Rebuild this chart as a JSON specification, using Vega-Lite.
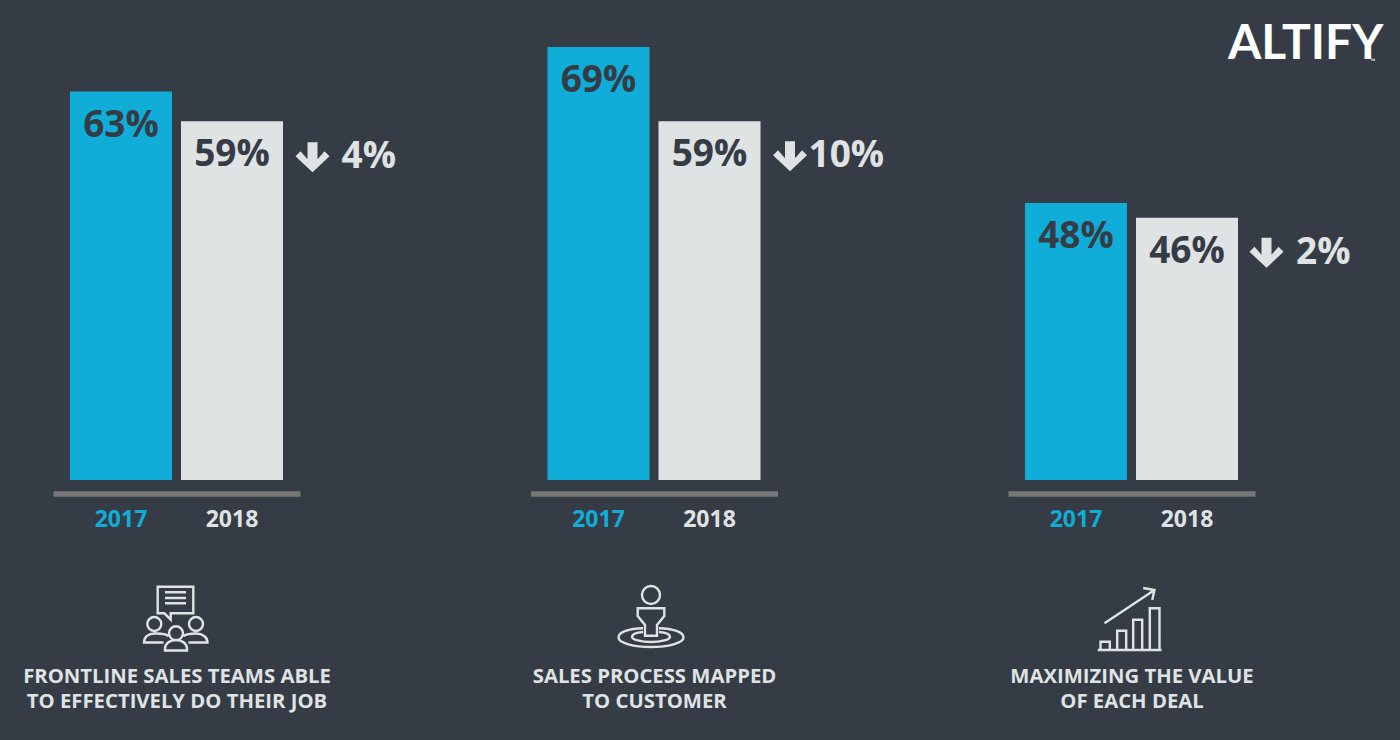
{"$schema":"https://vega.github.io/schema/vega-lite/v6.json","background":"#363c46","padding":{"left":22,"right":22,"top":21,"bottom":29},"bounds":"flush","spacing":230.5,"title":{"text":"ALTIFY","anchor":"end","dx":8,"offset":-22,"font":"Lato","fontWeight":"bold","fontSize":48,"color":"#ffffff"},"config":{"view":{"stroke":null}},"datasets":{"rows":[{"metric":"teams","year":"2017","value":63,"label":"63%","delta":"4%"},{"metric":"teams","year":"2018","value":59,"label":"59%","delta":"4%"},{"metric":"process","year":"2017","value":69,"label":"69%","delta":"10%"},{"metric":"process","year":"2018","value":59,"label":"59%","delta":"10%"},{"metric":"deal","year":"2017","value":48,"label":"48%","delta":"2%"},{"metric":"deal","year":"2018","value":46,"label":"46%","delta":"2%"}]},"hconcat":[{"width":247,"height":433,"data":{"name":"rows"},"transform":[{"filter":"datum.metric=='teams'"}],"encoding":{"x":{"field":"year","type":"nominal","scale":{"paddingInner":0.081,"paddingOuter":0.153},"axis":{"title":["FRONTLINE SALES TEAMS ABLE","TO EFFECTIVELY DO THEIR JOB"],"titlePadding":135,"titleLineHeight":25,"titleFont":"Open Sans","titleFontWeight":"bold","titleFontSize":20.3,"titleColor":"#dfe3e4","titleLimit":500,"offset":13.5,"domainColor":"#777777","domainWidth":5.5,"ticks":false,"labelAngle":0,"labelPadding":15,"labelFont":"Open Sans","labelFontWeight":"bold","labelFontSize":23,"labelColor":{"expr":"datum.value=='2017'?'#0fadd8':'#dfe3e4'"}}},"y":{"field":"value","type":"quantitative","scale":{"domain":[10.7,69],"zero":false,"clamp":true},"axis":null}},"layer":[{"mark":{"type":"bar"},"encoding":{"color":{"field":"year","type":"nominal","scale":{"domain":["2017","2018"],"range":["#0fadd8","#dfe3e4"]},"legend":null}}},{"mark":{"type":"text","dy":34,"font":"Open Sans","fontWeight":"bold","fontSize":37,"color":"#363c46","baseline":"middle"},"encoding":{"text":{"field":"label"}}},{"transform":[{"filter":"datum.year=='2018'"}],"mark":{"type":"point","xOffset":80.5,"yOffset":36,"size":4,"filled":true,"opacity":1,"fill":"#dfe3e4","strokeWidth":0,"shape":"M-5 -15H5V2L12 -6L17 -1L0 15L-17 -1L-12 -6L-5 2Z"}},{"transform":[{"filter":"datum.year=='2018'"}],"mark":{"type":"text","dy":36,"dx":109.5,"align":"left","font":"Open Sans","fontWeight":"bold","fontSize":37,"color":"#dfe3e4","baseline":"middle"},"encoding":{"text":{"field":"delta"}}},{"transform":[{"filter":"datum.year=='2018'"}],"mark":{"type":"point","yOffset":139,"size":4,"filled":false,"opacity":1,"stroke":"#dfe3e4","strokeWidth":2.4,"shape":"M-18.8 -32.3H16.8V-5.7H-5.8V0.7L-12.2 -5.7H-18.8ZM-11.5 -26.7H9.5M-11.5 -21H9.5M-11.5 -15.7H9.5M-29.2 5a7 7 0 1 0 14 0a7 7 0 1 0 -14 0ZM-7.5 14.3a7 7 0 1 0 14 0a7 7 0 1 0 -14 0ZM12.5 5a7 7 0 1 0 14 0a7 7 0 1 0 -14 0ZM-8 17C-12 14 -17 14.5 -22 14.5C-28 14.5 -32.5 18 -32.5 23.5H-13M-11.5 31.5V30C-11.5 24 -6 21 -0.5 21C5 21 10.5 24 10.5 30V31.5ZM7 17C10 15 14 14.5 19.5 14.5C26 14.5 31 18 31 23.5H12"},"encoding":{"x":{"value":123.5},"y":{"datum":10.7}}}]},{"width":247,"height":433,"data":{"name":"rows"},"transform":[{"filter":"datum.metric=='process'"}],"encoding":{"x":{"field":"year","type":"nominal","scale":{"paddingInner":0.081,"paddingOuter":0.153},"axis":{"title":["SALES PROCESS MAPPED","TO CUSTOMER"],"titlePadding":135,"titleLineHeight":25,"titleFont":"Open Sans","titleFontWeight":"bold","titleFontSize":20.3,"titleColor":"#dfe3e4","titleLimit":500,"offset":13.5,"domainColor":"#777777","domainWidth":5.5,"ticks":false,"labelAngle":0,"labelPadding":15,"labelFont":"Open Sans","labelFontWeight":"bold","labelFontSize":23,"labelColor":{"expr":"datum.value=='2017'?'#0fadd8':'#dfe3e4'"}}},"y":{"field":"value","type":"quantitative","scale":{"domain":[10.7,69],"zero":false,"clamp":true},"axis":null}},"layer":[{"mark":{"type":"bar"},"encoding":{"color":{"field":"year","type":"nominal","scale":{"domain":["2017","2018"],"range":["#0fadd8","#dfe3e4"]},"legend":null}}},{"mark":{"type":"text","dy":34,"font":"Open Sans","fontWeight":"bold","fontSize":37,"color":"#363c46","baseline":"middle"},"encoding":{"text":{"field":"label"}}},{"transform":[{"filter":"datum.year=='2018'"}],"mark":{"type":"point","xOffset":80.5,"yOffset":35,"size":4,"filled":true,"opacity":1,"fill":"#dfe3e4","strokeWidth":0,"shape":"M-5 -15H5V2L12 -6L17 -1L0 15L-17 -1L-12 -6L-5 2Z"}},{"transform":[{"filter":"datum.year=='2018'"}],"mark":{"type":"text","dy":35,"dx":99,"align":"left","font":"Open Sans","fontWeight":"bold","fontSize":37,"color":"#dfe3e4","baseline":"middle"},"encoding":{"text":{"field":"delta"}}},{"transform":[{"filter":"datum.year=='2018'"}],"mark":{"type":"point","yOffset":139,"size":4,"filled":false,"opacity":1,"stroke":"#dfe3e4","strokeWidth":2.4,"shape":"M-12 -24a9 9 0 1 0 18 0a9 9 0 1 0 -18 0ZM-16.3 -10.7H10.3V-3L3 6V16.7H-9V6L-16.3 -3ZM-11 9.2C-25 9.5 -35.5 13 -35.5 18.5C-35.5 24 -20 28 -3 28C14 28 29.5 24 29.5 18.5C29.5 13 19 9.5 5 9.2M-11 13C-18 13.5 -22 15.5 -22 18C-22 20.5 -13 23 -3 23C7 23 16 20.5 16 18C16 15.5 12 13.5 5 13"},"encoding":{"x":{"value":123.5},"y":{"datum":10.7}}}]},{"width":247,"height":433,"data":{"name":"rows"},"transform":[{"filter":"datum.metric=='deal'"}],"encoding":{"x":{"field":"year","type":"nominal","scale":{"paddingInner":0.081,"paddingOuter":0.153},"axis":{"title":["MAXIMIZING THE VALUE","OF EACH DEAL"],"titlePadding":135,"titleLineHeight":25,"titleFont":"Open Sans","titleFontWeight":"bold","titleFontSize":20.3,"titleColor":"#dfe3e4","titleLimit":500,"offset":13.5,"domainColor":"#777777","domainWidth":5.5,"ticks":false,"labelAngle":0,"labelPadding":15,"labelFont":"Open Sans","labelFontWeight":"bold","labelFontSize":23,"labelColor":{"expr":"datum.value=='2017'?'#0fadd8':'#dfe3e4'"}}},"y":{"field":"value","type":"quantitative","scale":{"domain":[10.7,69],"zero":false,"clamp":true},"axis":null}},"layer":[{"mark":{"type":"bar"},"encoding":{"color":{"field":"year","type":"nominal","scale":{"domain":["2017","2018"],"range":["#0fadd8","#dfe3e4"]},"legend":null}}},{"mark":{"type":"text","dy":34,"font":"Open Sans","fontWeight":"bold","fontSize":37,"color":"#363c46","baseline":"middle"},"encoding":{"text":{"field":"label"}}},{"transform":[{"filter":"datum.year=='2018'"}],"mark":{"type":"point","xOffset":79.5,"yOffset":35,"size":4,"filled":true,"opacity":1,"fill":"#dfe3e4","strokeWidth":0,"shape":"M-5 -15H5V2L12 -6L17 -1L0 15L-17 -1L-12 -6L-5 2Z"}},{"transform":[{"filter":"datum.year=='2018'"}],"mark":{"type":"text","dy":35,"dx":109,"align":"left","font":"Open Sans","fontWeight":"bold","fontSize":37,"color":"#dfe3e4","baseline":"middle"},"encoding":{"text":{"field":"delta"}}},{"transform":[{"filter":"datum.year=='2018'"}],"mark":{"type":"text","dy":-157,"dx":186,"font":"Open Sans","fontSize":6,"color":"#ffffff","baseline":"middle","text":"™"}},{"transform":[{"filter":"datum.year=='2018'"}],"mark":{"type":"point","yOffset":139,"size":4,"filled":false,"opacity":1,"stroke":"#dfe3e4","strokeWidth":2.4,"shape":"M-33.7 31H30M-31 31V22.7H-21.7V31M-14.3 31V11.7H-5.3V31M1.7 31V0.7H10.7V31M18.3 31V-10.7H28V31M-27 4.3L23 -29M11.7 -31L23 -29L20.7 -19"},"encoding":{"x":{"value":123.5},"y":{"datum":10.7}}}]}]}
